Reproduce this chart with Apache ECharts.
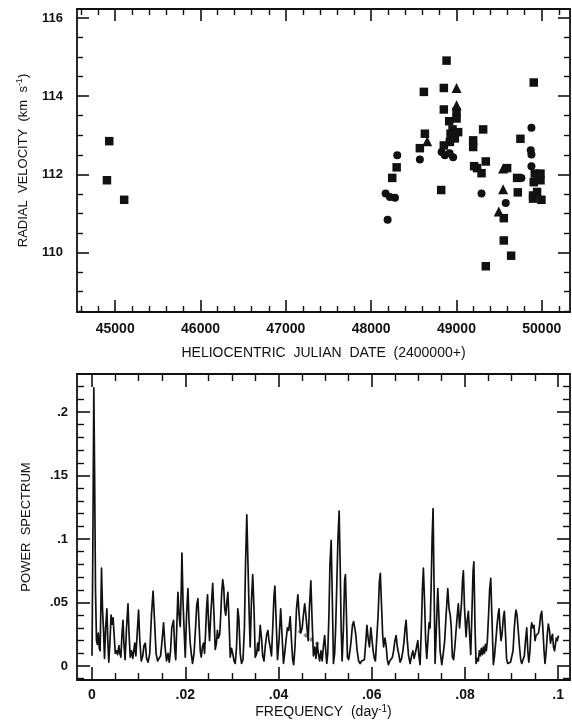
<!DOCTYPE html>
<html><head><meta charset="utf-8">
<script src="https://cdn.jsdelivr.net/npm/echarts@6/dist/echarts.min.js"></script>
<style>html,body{margin:0;padding:0;background:#fff}#c{width:572px;height:725px}</style>
</head><body><div id="c"></div>
<script>
// ---------- DATA: top panel (radial velocity vs HJD-2400000) ----------
const squareJD = [44930,44903,45105,48618,48630,48571,48299,48247,48884,48852,48852,49001,49001,48915,48954,49020,48981,48931,48923,48852,48821,49313,49196,49196,49344,49207,49242,49294,49344,49594,49555,49555,49641,49750,49711,49719,49906,49918,49985,49985,49906,49957,49898,49945,49996,49898];
const squareRV = [112.85,111.85,111.35,114.11,113.04,112.67,112.18,111.91,114.91,114.21,113.66,113.60,113.43,113.36,113.15,113.08,112.92,113.04,112.83,112.74,111.60,113.15,112.87,112.70,112.33,112.21,112.16,112.03,109.65,112.16,110.88,110.31,109.92,112.91,111.91,111.54,114.35,112.02,112.02,111.85,111.80,111.93,111.46,111.55,111.35,111.38];
const circleJD = [48571,48306,48170,48220,48279,48193,48826,48864,48961,48920,49294,49578,49761,49879,49871,49879,49879];
const circleRV = [112.38,112.49,111.51,111.42,111.40,110.84,112.57,112.49,112.44,112.54,111.51,111.27,111.91,113.19,112.62,112.51,112.21];
const triangleJD = [48657,49001,49001,49547,49547,49496];
const triangleRV = [112.85,114.21,113.77,112.15,111.62,111.05];

// ---------- DATA: bottom panel (power spectrum) ----------
const freq = [0,0.00019,0.00039,0.00056,0.00075,0.00096,0.00114,0.00135,0.00156,0.00174,0.00204,0.00225,0.00247,0.00268,0.00292,0.00319,0.00339,0.00360,0.00386,0.00409,0.00431,0.00452,0.00474,0.00499,0.00525,0.00549,0.00577,0.00596,0.00619,0.00643,0.00665,0.00684,0.00710,0.00740,0.00772,0.00795,0.00821,0.00849,0.00875,0.00896,0.00917,0.00941,0.00960,0.00999,0.01025,0.01057,0.01089,0.01115,0.01143,0.01170,0.01203,0.01239,0.01275,0.01310,0.01342,0.01374,0.01406,0.01438,0.01471,0.01503,0.01535,0.01567,0.01599,0.01631,0.01657,0.01685,0.01711,0.01749,0.01777,0.01796,0.01818,0.01843,0.01867,0.01893,0.01914,0.01929,0.01953,0.01974,0.02000,0.02028,0.02058,0.02081,0.02107,0.02129,0.02156,0.02189,0.02221,0.02246,0.02272,0.02300,0.02322,0.02343,0.02369,0.02392,0.02414,0.02435,0.02457,0.02478,0.02499,0.02521,0.02547,0.02589,0.02617,0.02643,0.02669,0.02690,0.02712,0.02740,0.02761,0.02782,0.02804,0.02825,0.02847,0.02868,0.02892,0.02915,0.02939,0.02965,0.02992,0.03018,0.03046,0.03072,0.03100,0.03127,0.03149,0.03179,0.03207,0.03239,0.03269,0.03293,0.03320,0.03346,0.03372,0.03393,0.03419,0.03447,0.03475,0.03501,0.03533,0.03554,0.03576,0.03608,0.03636,0.03661,0.03689,0.03715,0.03747,0.03773,0.03796,0.03822,0.03850,0.03876,0.03903,0.03923,0.03946,0.03979,0.04011,0.04047,0.04075,0.04107,0.04133,0.04161,0.04191,0.04219,0.04251,0.04279,0.04304,0.04326,0.04354,0.04386,0.04416,0.04444,0.04476,0.04508,0.04534,0.04562,0.04583,0.04611,0.04637,0.04662,0.04694,0.04722,0.04750,0.04780,0.04804,0.04830,0.04855,0.04883,0.04911,0.04937,0.04965,0.04990,0.05014,0.05035,0.05057,0.05082,0.05104,0.05130,0.05151,0.05179,0.05205,0.05226,0.05248,0.05275,0.05301,0.05323,0.05344,0.05365,0.05393,0.05419,0.05436,0.05458,0.05479,0.05505,0.05533,0.05558,0.05586,0.05612,0.05636,0.05657,0.05687,0.05719,0.05751,0.05783,0.05816,0.05843,0.05871,0.05897,0.05923,0.05951,0.05981,0.06004,0.06030,0.06056,0.06079,0.06107,0.06137,0.06163,0.06184,0.06208,0.06234,0.06255,0.06283,0.06309,0.06334,0.06358,0.06386,0.06416,0.06444,0.06469,0.06497,0.06523,0.06549,0.06577,0.06609,0.06641,0.06669,0.06694,0.06716,0.06737,0.06763,0.06791,0.06823,0.06855,0.06883,0.06909,0.06935,0.06962,0.06988,0.07012,0.07037,0.07065,0.07087,0.07108,0.07134,0.07157,0.07181,0.07205,0.07230,0.07252,0.07273,0.07295,0.07316,0.07338,0.07359,0.07387,0.07417,0.07440,0.07466,0.07503,0.07535,0.07565,0.07595,0.07631,0.07659,0.07685,0.07706,0.07730,0.07756,0.07783,0.07809,0.07835,0.07858,0.07884,0.07906,0.07927,0.07948,0.07966,0.07991,0.08024,0.08045,0.08073,0.08099,0.08124,0.08148,0.08174,0.08191,0.08216,0.08238,0.08264,0.08287,0.08309,0.08330,0.08351,0.08373,0.08394,0.08416,0.08437,0.08459,0.08480,0.08506,0.08529,0.08553,0.08577,0.08609,0.08634,0.08662,0.08688,0.08709,0.08731,0.08752,0.08774,0.08795,0.08823,0.08845,0.08870,0.08892,0.08917,0.08945,0.08977,0.09005,0.09031,0.09059,0.09080,0.09095,0.09117,0.09143,0.09170,0.09196,0.09218,0.09245,0.09273,0.09299,0.09325,0.09348,0.09370,0.09395,0.09417,0.09432,0.09455,0.09481,0.09503,0.09524,0.09550,0.09578,0.09601,0.09623,0.09646,0.09670,0.09696,0.09717,0.09743,0.09766,0.09788,0.09813,0.09835,0.09856,0.09878,0.09899,0.09921,0.09938,0.09959,0.09981,0.10006];
const power = [0.008,0.10,0.219,0.15,0.06,0.020,0.017,0.026,0.014,0.012,0.077,0.045,0.028,0.006,0.030,0.045,0.020,0.003,0.020,0.040,0.033,0.038,0.025,0.010,0.012,0.009,0.016,0.010,0.007,0.025,0.036,0.018,0.005,0.030,0.049,0.025,0.007,0.012,0.006,0.012,0.018,0.008,0.020,0.044,0.020,0.004,0.008,0.016,0.018,0.006,0.003,0.010,0.040,0.059,0.035,0.010,0.004,0.003,0.008,0.020,0.034,0.015,0.004,0.010,0.003,0.012,0.030,0.036,0.012,0.005,0.030,0.058,0.040,0.031,0.060,0.089,0.050,0.030,0.007,0.040,0.061,0.035,0.018,0.010,0.002,0.010,0.030,0.048,0.053,0.030,0.012,0.007,0.015,0.018,0.010,0.025,0.045,0.056,0.035,0.020,0.040,0.065,0.040,0.013,0.018,0.028,0.022,0.025,0.040,0.058,0.068,0.062,0.045,0.040,0.050,0.058,0.035,0.007,0.014,0.010,0.004,0.002,0.015,0.045,0.038,0.010,0.002,0.005,0.030,0.080,0.119,0.080,0.040,0.015,0.050,0.072,0.045,0.007,0.010,0.018,0.012,0.032,0.022,0.008,0.004,0.015,0.025,0.028,0.020,0.015,0.008,0.030,0.055,0.063,0.040,0.005,0.020,0.045,0.025,0.002,0.010,0.020,0.030,0.028,0.039,0.020,0.005,0.001,0.015,0.045,0.056,0.040,0.026,0.030,0.040,0.049,0.042,0.030,0.020,0.045,0.067,0.035,0.008,0.015,0.006,0.018,0.010,0.004,0.012,0.004,0.016,0.024,0.012,0.002,0.010,0.040,0.080,0.099,0.060,0.002,0.010,0.030,0.060,0.100,0.122,0.080,0.030,0.004,0.030,0.068,0.072,0.040,0.007,0.005,0.012,0.020,0.032,0.035,0.030,0.025,0.012,0.004,0.002,0.004,0.003,0.005,0.018,0.032,0.022,0.015,0.030,0.031,0.012,0.006,0.004,0.005,0.040,0.066,0.073,0.050,0.025,0.015,0.022,0.016,0.005,0.001,0.004,0.003,0.007,0.012,0.020,0.024,0.015,0.010,0.003,0.006,0.012,0.020,0.030,0.036,0.020,0.008,0.002,0.008,0.012,0.006,0.010,0.015,0.020,0.008,0.001,0.030,0.060,0.077,0.050,0.020,0.006,0.020,0.034,0.030,0.060,0.100,0.124,0.060,0.002,0.030,0.061,0.040,0.012,0.001,0.010,0.020,0.040,0.061,0.045,0.040,0.030,0.007,0.005,0.015,0.028,0.040,0.049,0.030,0.031,0.050,0.068,0.075,0.045,0.023,0.035,0.043,0.025,0.009,0.040,0.075,0.082,0.030,0.002,0.006,0.004,0.012,0.008,0.014,0.009,0.015,0.010,0.017,0.012,0.020,0.040,0.060,0.069,0.040,0.001,0.008,0.020,0.032,0.040,0.045,0.030,0.020,0.025,0.038,0.043,0.025,0.006,0.002,0.002,0.003,0.004,0.012,0.030,0.040,0.044,0.040,0.028,0.015,0.005,0.002,0.003,0.008,0.020,0.030,0.012,0.003,0.012,0.030,0.034,0.030,0.032,0.020,0.024,0.023,0.026,0.032,0.040,0.043,0.030,0.012,0.002,0.012,0.025,0.033,0.028,0.018,0.022,0.025,0.015,0.012,0.011,0.022,0.020,0.024];
// faint grey dotted trace near .045-.049
const greyFreq = [0.0443,0.0455,0.0466,0.0478,0.0490];
const greyPower = [0.028,0.025,0.022,0.019,0.016];

// ---------- TICKS ----------
const topXMajor = [45000,46000,47000,48000,49000,50000];
const topXLabels = ['45000','46000','47000','48000','49000','50000'];
const topYMajor = [110,112,114,116];
const topYLabels = ['110','112','114','116'];
const botXMajor = [0,0.02,0.04,0.06,0.08,0.1];
const botXLabels = ['0','.02','.04','.06','.08','.1'];
const botYMajor = [0,0.05,0.1,0.15,0.2];
const botYLabels = ['0','.05','.1','.15','.2'];
const topXMinorStep = 200, topYMinorStep = 0.5, botXMinorStep = 0.005, botYMinorStep = 0.01;

// axis extents (frame edges)
const topXRange = [44552, 50331], topYRange = [108.48, 116.23];
const botXRange = [-0.00322, 0.10253], botYRange = [-0.011, 0.2299];

function minorTicks(range, step, majors){
  const out = [];
  const start = Math.ceil(range[0]/step - 1e-9);
  const end = Math.floor(range[1]/step + 1e-9);
  for (let k = start; k <= end; k++){
    const v = +(k*step).toFixed(6);
    if (!majors.some(m => Math.abs(m - v) < step*1e-3)) out.push(v);
  }
  return out;
}

const INK = '#111';
const FONT = '"Liberation Sans", Arial, Helvetica, sans-serif';

function axisSet(kind, gridIndex, range, majors, labels, minors, majLen, minLen, labelOpt, nameOpt){
  const pos = kind === 'x' ? ['bottom','top'] : ['left','right'];
  const base = {type:'value', gridIndex, min:range[0], max:range[1], scale:true,
    splitLine:{show:false}, minorTick:{show:false}, axisPointer:{show:false}, silent:true};
  const line = {show:true, onZero:false, lineStyle:{color:INK, width:1.8}};
  const noLine = {show:false, onZero:false};
  const majTick = {show:true, inside:true, length:majLen, customValues:majors, lineStyle:{color:INK, width:1.6}};
  const minTick = {show:true, inside:true, length:minLen, customValues:minors, lineStyle:{color:INK, width:1.4}};
  const main = Object.assign({}, base, {position:pos[0], axisLine:line, axisTick:majTick,
    axisLabel:Object.assign({show:true, customValues:majors, color:INK, fontFamily:FONT, fontWeight:'bold', fontSize:13,
      formatter: v => { const i = majors.findIndex(m => Math.abs(m - v) < 1e-9); return i >= 0 ? labels[i] : ''; }}, labelOpt)}, nameOpt);
  return [
    main,
    Object.assign({}, base, {position:pos[1], axisLine:line, axisTick:majTick, axisLabel:{show:false}}),
    Object.assign({}, base, {position:pos[0], axisLine:noLine, axisTick:minTick, axisLabel:{show:false}}),
    Object.assign({}, base, {position:pos[1], axisLine:noLine, axisTick:minTick, axisLabel:{show:false}})
  ];
}

function nameStyle(size){
  return {color:INK, fontFamily:FONT, fontSize:size, lineHeight:size+3,
    rich:{sup:{fontSize:size-4, fontFamily:FONT, color:INK, verticalAlign:'top', lineHeight:size-3}}};
}

const xAxes = [].concat(
  axisSet('x', 0, topXRange, topXMajor, topXLabels, minorTicks(topXRange, topXMinorStep, topXMajor), 12, 6,
    {margin:10, fontSize:14}, {name:'HELIOCENTRIC  JULIAN  DATE  (2400000+)', nameLocation:'middle', nameGap:33, nameTextStyle:nameStyle(14)}),
  axisSet('x', 1, botXRange, botXMajor, botXLabels, minorTicks(botXRange, botXMinorStep, botXMajor), 13, 7,
    {margin:8, fontSize:14}, {name:'FREQUENCY  (day{sup|-1})', nameLocation:'middle', nameGap:24, nameTextStyle:nameStyle(14)})
);
const yAxes = [].concat(
  axisSet('y', 0, topYRange, topYMajor, topYLabels, minorTicks(topYRange, topYMinorStep, topYMajor), 12, 6,
    {margin:14}, {name:'RADIAL  VELOCITY  (km  s{sup|-1})', nameLocation:'middle', nameGap:42, nameTextStyle:nameStyle(13)}),
  axisSet('y', 1, botYRange, botYMajor, botYLabels, minorTicks(botYRange, botYMinorStep, botYMajor), 13, 7,
    {margin:9}, {name:'POWER  SPECTRUM', nameLocation:'middle', nameGap:43, nameTextStyle:nameStyle(13)})
);

const zip = (a, b) => a.map((v, i) => [v, b[i]]);
const dot = {color:INK, opacity:1};

const option = {
  backgroundColor:'#fff',
  animation:false,
  grid:[
    {left:77, right:2, top:9, height:303, containLabel:false},
    {left:77, right:2, top:374, height:306, containLabel:false}
  ],
  xAxis:xAxes,
  yAxis:yAxes,
  series:[
    {type:'scatter', xAxisIndex:0, yAxisIndex:0, symbol:'rect', symbolSize:8.5, itemStyle:dot, data:zip(squareJD, squareRV), z:5},
    {type:'scatter', xAxisIndex:0, yAxisIndex:0, symbol:'circle', symbolSize:8, itemStyle:dot, data:zip(circleJD, circleRV), z:5},
    {type:'scatter', xAxisIndex:0, yAxisIndex:0, symbol:'triangle', symbolSize:10, itemStyle:dot, data:zip(triangleJD, triangleRV), z:5},
    {type:'line', xAxisIndex:4, yAxisIndex:4, showSymbol:false, symbol:'none', clip:true,
      lineStyle:{color:'#888', width:3.5, type:'dotted'}, data:zip(greyFreq, greyPower), z:3},
    {type:'line', xAxisIndex:4, yAxisIndex:4, showSymbol:false, symbol:'none', clip:true,
      lineStyle:{color:INK, width:1.7, join:'round'}, data:zip(freq, power), z:4}
  ]
};
const chart = echarts.init(document.getElementById('c'), null, {renderer:'canvas'});
chart.setOption(option);
</script></body></html>
